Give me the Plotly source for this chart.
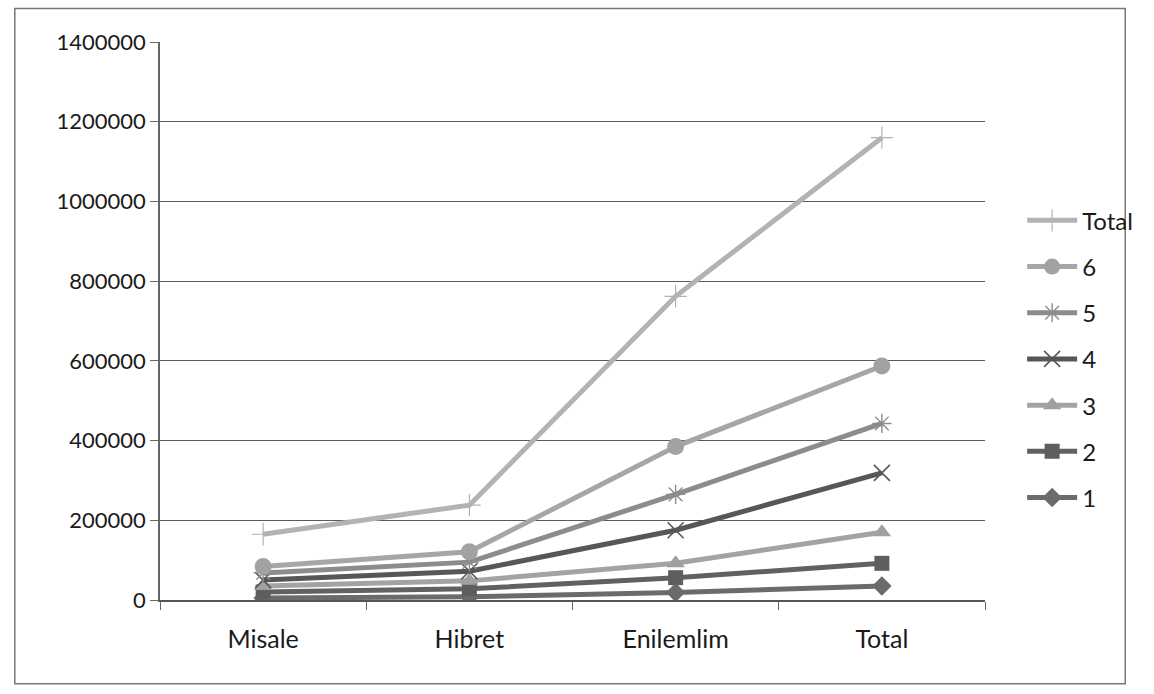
import plotly.graph_objects as go

# Categories along the x axis
categories = ["Misale", "Hibret", "Enilemlim", "Total"]

# Values per series (plotted as a stacked line chart, series 1 at the bottom)
series_1 = [5000, 8000, 19000, 35000]
series_2 = [15000, 20000, 37000, 57000]
series_3 = [15000, 20000, 36000, 78000]
series_4 = [15000, 24000, 83000, 149000]
series_5 = [18000, 23000, 90000, 124000]
series_6 = [16000, 26000, 120000, 144000]
series_total = [81000, 117000, 377000, 573000]

y_ticks = [0, 200000, 400000, 600000, 800000, 1000000, 1200000, 1400000]

FONT = "Lato"

styles = [
    ("1", series_1, "#6b6b6b", dict(symbol="diamond", size=15, color="#6b6b6b")),
    ("2", series_2, "#616161", dict(symbol="square", size=15, color="#5e5e5e")),
    ("3", series_3, "#a3a3a3", dict(symbol="triangle-up", size=16, color="#a0a0a0")),
    ("4", series_4, "#575757", dict(symbol="x-thin-open", size=16,
                                    line=dict(color="#222222", width=1.6))),
    ("5", series_5, "#8c8c8c", dict(symbol="asterisk-open", size=16,
                                    line=dict(color="#333333", width=1.4))),
    ("6", series_6, "#a6a6a6", dict(symbol="circle", size=17, color="#a2a2a2")),
    ("Total", series_total, "#b3b3b3", dict(symbol="cross-thin-open", size=16,
                                            line=dict(color="#777777", width=1.2))),
]

fig = go.Figure()
n = len(styles)
for i, (name, vals, color, marker) in enumerate(styles):
    fig.add_trace(go.Scatter(
        x=categories,
        y=vals,
        name=name,
        mode="lines+markers",
        stackgroup="s",
        fill="none",
        line=dict(color=color, width=5),
        marker=marker,
        legendgroup=name,
        legendrank=n - i,
    ))

fig.update_layout(
    width=1154,
    height=694,
    margin=dict(l=160, r=169, t=42, b=94),
    paper_bgcolor="white",
    plot_bgcolor="white",
    font=dict(family=FONT, size=22, color="#1a1a1a"),
    showlegend=True,
    legend=dict(
        x=1.045, xanchor="left",
        y=0.72, yanchor="top",
        traceorder="grouped",
        tracegroupgap=12,
        itemwidth=50,
        font=dict(family=FONT, size=24, color="#1a1a1a"),
        bgcolor="rgba(0,0,0,0)",
    ),
    xaxis=dict(
        type="category",
        range=[-0.5, 3.5],
        showgrid=False,
        showline=True,
        linecolor="#555555",
        linewidth=1.5,
        ticks="outside",
        ticklen=8,
        tickcolor="#666666",
        tickson="boundaries",
        tickfont=dict(family=FONT, size=25),
        ticklabelstandoff=16,
        zeroline=False,
    ),
    yaxis=dict(
        range=[0, 1400000],
        tickvals=y_ticks,
        ticktext=[str(v) for v in y_ticks],
        showgrid=True,
        gridcolor="#5a5a5a",
        gridwidth=1.2,
        showline=True,
        linecolor="#666666",
        linewidth=1.5,
        ticks="outside",
        ticklen=8,
        tickcolor="#666666",
        tickfont=dict(family=FONT, size=22),
        zeroline=False,
    ),
    shapes=[
        dict(type="rect", xref="paper", yref="paper",
             x0=-0.176, x1=1.17, y0=-0.15, y1=1.06,
             line=dict(color="#777777", width=1.5)),
    ],
)

fig.write_html("out.html")
